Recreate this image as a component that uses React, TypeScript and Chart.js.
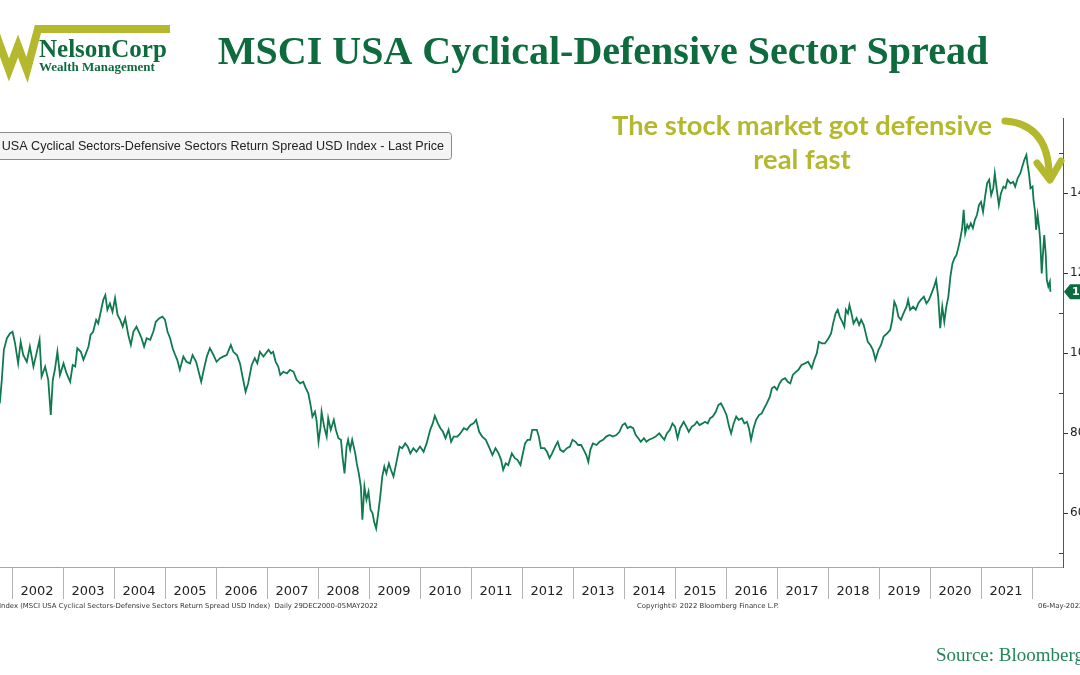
import React, { useEffect, useRef } from 'react';
import { Chart, registerables } from 'chart.js';

Chart.register(...registerables);

// ---- DATA (decimal year, index level) ----
const seg2001to2006: [number, number][] = [
  [2001.77, 87.4], [2001.81, 93.3], [2001.85, 100.8], [2001.91, 103.7], [2001.97, 104.9], [2002.02, 105.3],
  [2002.07, 102.4], [2002.13, 97.4], [2002.18, 102.8], [2002.23, 99.5], [2002.30, 97.8], [2002.36, 101.6],
  [2002.43, 96.6], [2002.49, 99.9], [2002.55, 103.3], [2002.59, 94.1], [2002.66, 96.6], [2002.72, 93.3],
  [2002.77, 84.5], [2002.81, 93.3], [2002.85, 95.8], [2002.90, 100.3], [2002.95, 94.5], [2003.02, 97.4],
  [2003.08, 94.9], [2003.15, 92.8], [2003.20, 97.0], [2003.25, 96.6], [2003.29, 101.2], [2003.36, 100.3],
  [2003.41, 98.3], [2003.46, 99.9], [2003.51, 101.6], [2003.55, 104.5], [2003.60, 105.3], [2003.66, 108.3],
  [2003.70, 107.4], [2003.75, 110.3], [2003.80, 113.3], [2003.84, 114.5], [2003.88, 110.8], [2003.93, 112.4],
  [2003.98, 110.3], [2004.03, 113.7], [2004.08, 109.5], [2004.13, 108.3], [2004.18, 106.6], [2004.23, 108.7],
  [2004.29, 104.5], [2004.34, 102.0], [2004.39, 105.3], [2004.45, 106.6], [2004.51, 104.9], [2004.55, 103.7],
  [2004.60, 101.6], [2004.65, 103.7], [2004.72, 103.3], [2004.78, 105.3], [2004.83, 107.8], [2004.90, 108.7],
  [2004.96, 109.1], [2005.01, 108.3], [2005.06, 105.3], [2005.11, 103.7], [2005.16, 101.2], [2005.21, 99.5],
  [2005.25, 98.3], [2005.30, 95.8], [2005.37, 99.1], [2005.43, 97.8], [2005.50, 97.4], [2005.55, 99.5],
  [2005.62, 97.8], [2005.67, 95.3], [2005.72, 92.8], [2005.77, 95.8], [2005.83, 99.1], [2005.89, 101.2],
  [2005.96, 99.5], [2006.02, 97.8], [2006.09, 98.7], [2006.15, 99.1], [2006.22, 99.5], [2006.30, 102.0],
  [2006.35, 100.3], [2006.42, 99.5], [2006.48, 97.4], [2006.53, 94.1], [2006.59, 90.3], [2006.64, 92.4],
  [2006.71, 97.0], [2006.77, 98.7], [2006.82, 97.4], [2006.87, 100.3], [2006.94, 99.1],
];

const seg2007to2011: [number, number][] = [
  [2007.04, 100.8], [2007.09, 99.9], [2007.13, 100.3], [2007.18, 97.8], [2007.23, 96.6], [2007.27, 94.5],
  [2007.33, 95.3], [2007.40, 94.9], [2007.46, 95.8], [2007.53, 95.3], [2007.59, 93.3], [2007.66, 92.4],
  [2007.72, 92.8], [2007.77, 91.2], [2007.82, 89.9], [2007.87, 86.6], [2007.90, 84.1], [2007.95, 85.3],
  [2007.98, 83.3], [2008.02, 77.8], [2008.06, 81.6], [2008.08, 85.3], [2008.13, 81.6], [2008.18, 79.1],
  [2008.21, 83.7], [2008.26, 80.8], [2008.32, 83.3], [2008.36, 80.8], [2008.41, 78.7], [2008.46, 78.3],
  [2008.49, 74.1], [2008.53, 69.9], [2008.57, 76.6], [2008.60, 78.3], [2008.64, 75.8], [2008.68, 78.3],
  [2008.74, 74.9], [2008.77, 72.4], [2008.81, 69.9], [2008.85, 66.6], [2008.88, 58.3], [2008.92, 66.6],
  [2008.96, 63.3], [2009.00, 65.3], [2009.04, 60.8], [2009.08, 59.9], [2009.11, 57.8], [2009.15, 56.1],
  [2009.19, 59.9], [2009.23, 64.1], [2009.27, 69.1], [2009.31, 71.6], [2009.35, 69.9], [2009.40, 72.4],
  [2009.44, 70.8], [2009.49, 69.1], [2009.53, 71.6], [2009.57, 74.1], [2009.61, 76.6], [2009.66, 76.2],
  [2009.72, 77.4], [2009.77, 76.6], [2009.82, 74.9], [2009.88, 76.2], [2009.94, 75.3], [2010.01, 76.6],
  [2010.08, 75.3], [2010.14, 77.4], [2010.21, 80.8], [2010.26, 82.4], [2010.30, 84.3], [2010.36, 82.4],
  [2010.41, 81.2], [2010.46, 80.3], [2010.51, 78.7], [2010.57, 80.8], [2010.62, 77.8], [2010.67, 79.1],
  [2010.74, 79.1], [2010.80, 79.9], [2010.87, 81.2], [2010.93, 80.8], [2011.00, 82.0], [2011.06, 82.4],
  [2011.11, 83.3], [2011.17, 80.3], [2011.23, 79.1], [2011.30, 78.3], [2011.36, 76.6], [2011.43, 74.5],
  [2011.49, 76.2], [2011.55, 74.9], [2011.60, 73.3], [2011.64, 70.8], [2011.69, 72.4], [2011.74, 72.0],
  [2011.81, 74.9], [2011.87, 73.7], [2011.92, 73.3], [2011.98, 72.0],
];

const seg2012to2016: [number, number][] = [
  [2012.02, 74.5], [2012.07, 77.4], [2012.12, 78.3], [2012.17, 78.3], [2012.21, 80.8], [2012.30, 80.8],
  [2012.34, 79.1], [2012.38, 76.2], [2012.45, 76.2], [2012.50, 75.3], [2012.55, 73.7], [2012.60, 74.9],
  [2012.66, 76.6], [2012.71, 77.8], [2012.76, 75.8], [2012.82, 75.3], [2012.89, 76.2], [2012.95, 76.6],
  [2013.00, 78.3], [2013.06, 77.8], [2013.11, 77.0], [2013.17, 77.0], [2013.22, 75.8], [2013.27, 74.5],
  [2013.31, 72.8], [2013.35, 75.8], [2013.40, 77.4], [2013.47, 77.0], [2013.53, 77.8], [2013.60, 78.3],
  [2013.66, 79.1], [2013.73, 79.5], [2013.79, 79.1], [2013.86, 79.5], [2013.92, 80.3], [2013.98, 82.0],
  [2014.03, 82.4], [2014.08, 81.2], [2014.13, 81.6], [2014.19, 81.2], [2014.24, 79.5], [2014.29, 78.7],
  [2014.34, 77.8], [2014.40, 78.7], [2014.45, 77.8], [2014.50, 78.3], [2014.57, 78.7], [2014.63, 79.1],
  [2014.70, 79.9], [2014.75, 79.1], [2014.80, 78.3], [2014.85, 79.9], [2014.91, 80.8], [2014.96, 82.4],
  [2015.01, 81.6], [2015.06, 78.7], [2015.11, 81.2], [2015.18, 82.8], [2015.23, 81.6], [2015.28, 80.3],
  [2015.34, 81.6], [2015.39, 82.0], [2015.44, 82.8], [2015.49, 82.0], [2015.55, 82.4], [2015.60, 82.8],
  [2015.65, 82.4], [2015.70, 83.7], [2015.75, 84.1], [2015.81, 85.3], [2015.86, 87.0], [2015.91, 87.4],
  [2015.96, 86.2], [2016.02, 84.5], [2016.07, 81.6], [2016.11, 79.9], [2016.16, 82.4], [2016.21, 84.1],
  [2016.26, 83.3], [2016.32, 83.7], [2016.37, 82.4], [2016.42, 82.8], [2016.46, 81.2], [2016.50, 78.3],
  [2016.55, 81.2], [2016.60, 83.3], [2016.66, 84.5], [2016.71, 84.9], [2016.76, 86.2], [2016.81, 87.4],
  [2016.87, 89.1], [2016.91, 91.2], [2016.96, 91.6],
];

const seg2017to2022: [number, number][] = [
  [2017.01, 90.8], [2017.06, 92.4], [2017.11, 93.3], [2017.17, 93.7], [2017.22, 92.8], [2017.27, 92.4],
  [2017.32, 94.5], [2017.38, 95.3], [2017.43, 95.8], [2017.49, 97.0], [2017.56, 97.4], [2017.62, 97.8],
  [2017.69, 96.2], [2017.74, 98.3], [2017.79, 99.9], [2017.83, 102.8], [2017.89, 102.4], [2017.95, 102.4],
  [2018.02, 103.7], [2018.07, 104.9], [2018.11, 107.4], [2018.16, 109.9], [2018.20, 110.8], [2018.24, 109.1],
  [2018.29, 107.8], [2018.33, 106.6], [2018.36, 110.8], [2018.40, 109.9], [2018.43, 112.0], [2018.47, 109.9],
  [2018.51, 107.4], [2018.57, 108.7], [2018.62, 107.0], [2018.66, 108.3], [2018.71, 107.0], [2018.75, 104.9],
  [2018.79, 102.8], [2018.84, 102.0], [2018.89, 100.8], [2018.94, 98.3], [2019.00, 100.8], [2019.05, 102.0],
  [2019.10, 104.1], [2019.17, 104.9], [2019.23, 105.8], [2019.27, 108.3], [2019.31, 112.8], [2019.35, 111.6],
  [2019.39, 109.1], [2019.44, 108.3], [2019.49, 109.9], [2019.55, 111.6], [2019.58, 113.3], [2019.62, 110.8],
  [2019.68, 111.6], [2019.73, 110.8], [2019.78, 112.4], [2019.83, 113.3], [2019.89, 114.1], [2019.94, 112.4],
  [2019.99, 113.3], [2020.04, 114.9], [2020.09, 116.6], [2020.13, 118.3], [2020.17, 114.1], [2020.21, 106.2],
  [2020.25, 111.6], [2020.29, 107.8], [2020.33, 111.6], [2020.37, 114.1], [2020.41, 119.1], [2020.45, 122.4],
  [2020.49, 123.7], [2020.53, 124.5], [2020.57, 126.6], [2020.60, 128.3], [2020.64, 131.2], [2020.67, 135.8],
  [2020.70, 129.9], [2020.74, 132.0], [2020.77, 131.2], [2020.81, 132.4], [2020.85, 131.2], [2020.89, 133.3],
  [2020.93, 134.5], [2020.97, 137.0], [2021.01, 137.8], [2021.05, 135.3], [2021.09, 139.1], [2021.13, 142.4],
  [2021.17, 143.3], [2021.21, 139.5], [2021.25, 141.2], [2021.28, 144.9], [2021.32, 140.8], [2021.36, 137.0],
  [2021.40, 139.9], [2021.45, 141.6], [2021.49, 141.2], [2021.53, 143.3], [2021.59, 142.4], [2021.64, 142.8],
  [2021.68, 141.6], [2021.73, 143.7], [2021.78, 144.9], [2021.82, 146.6], [2021.86, 148.3], [2021.90, 149.5],
  [2021.92, 147.4], [2021.95, 144.9], [2021.98, 141.2], [2022.02, 141.6], [2022.04, 138.3], [2022.07, 135.3],
  [2022.09, 130.8], [2022.12, 134.5], [2022.15, 131.2], [2022.17, 128.3], [2022.20, 119.9], [2022.23, 125.8],
  [2022.25, 129.5], [2022.28, 124.5], [2022.30, 118.3], [2022.33, 116.6], [2022.36, 117.8], [2022.37, 115.3],
];

const yearLabels = [2002, 2003, 2004, 2005, 2006, 2007, 2008, 2009, 2010, 2011, 2012, 2013, 2014, 2015, 2016, 2017, 2018, 2019, 2020, 2021];
const yearBoundaries = [2002, 2003, 2004, 2005, 2006, 2007, 2008, 2009, 2010, 2011, 2012, 2013, 2014, 2015, 2016, 2017, 2018, 2019, 2020, 2021, 2022];
const yTickValues = [50, 60, 70, 80, 90, 100, 110, 120, 130, 140, 150];
const yLabeledTicks = [60, 80, 100, 120, 140];

const X_MIN = 2001.7745;
const X_MAX = 2022.6176;
const Y_MIN = 46.5;
const Y_MAX = 158.75;

const TITLE = 'MSCI USA Cyclical-Defensive Sector Spread';
const LEGEND_TEXT = 'MSCI USA Cyclical Sectors-Defensive Sectors Return Spread USD Index - Last Price';
const ANNOTATION = ['The stock market got defensive', 'real fast'];
const FOOTER_LEFT = 'Index (MSCI USA Cyclical Sectors-Defensive Sectors Return Spread USD Index)  Daily 29DEC2000-05MAY2022';
const FOOTER_MID = 'Copyright\u00A9 2022 Bloomberg Finance L.P.';
const FOOTER_RIGHT = '06-May-2022';
const SOURCE = 'Source: Bloomberg';

const GREEN_LINE = '#0f7a4f';
const DARK_GREEN = '#0d6b3e';
const OLIVE = '#b3b82c';

const decorPlugin = {
  id: 'decor',
  beforeDraw(chart: any) {
    const { ctx, width, height } = chart;
    ctx.save();
    ctx.fillStyle = '#ffffff';
    ctx.fillRect(0, 0, width, height);
    ctx.restore();
  },
  afterDraw(chart: any) {
    const { ctx, chartArea } = chart;
    const xs = chart.scales.x;
    const ys = chart.scales.y;
    ctx.save();

    // Logo
    ctx.strokeStyle = OLIVE;
    ctx.lineWidth = 8;
    ctx.lineJoin = 'miter';
    ctx.beginPath();
    ctx.moveTo(-6, 29);
    ctx.lineTo(9, 70);
    ctx.lineTo(18, 46);
    ctx.lineTo(27, 70);
    ctx.lineTo(38, 29);
    ctx.lineTo(170, 29);
    ctx.stroke();
    ctx.fillStyle = DARK_GREEN;
    ctx.textAlign = 'left';
    ctx.textBaseline = 'alphabetic';
    ctx.font = 'bold 25px "Liberation Serif"';
    ctx.fillText('NelsonCorp', 39, 57);
    ctx.font = 'bold 13px "Liberation Serif"';
    ctx.fillText('Wealth Management', 39, 71);

    // Title
    ctx.font = 'bold 40px "Liberation Serif"';
    ctx.textAlign = 'center';
    ctx.fillStyle = DARK_GREEN;
    ctx.fillText(TITLE, 603, 64);

    // Legend box
    ctx.fillStyle = '#f4f4f4';
    ctx.strokeStyle = '#8a8a8a';
    ctx.lineWidth = 1;
    ctx.beginPath();
    (ctx as any).roundRect ? ctx.roundRect(-6.5, 132.5, 458, 27, 3) : ctx.rect(-6.5, 132.5, 458, 27);
    ctx.fill();
    ctx.stroke();
    ctx.fillStyle = '#222';
    ctx.font = '12.6px "Liberation Sans"';
    ctx.textAlign = 'right';
    ctx.textBaseline = 'middle';
    ctx.fillText(LEGEND_TEXT, 444, 146.5);

    // Annotation
    ctx.fillStyle = OLIVE;
    ctx.font = 'bold 27.3px Lato';
    ctx.textAlign = 'center';
    ctx.textBaseline = 'alphabetic';
    ctx.fillText(ANNOTATION[0], 802, 135);
    ctx.fillText(ANNOTATION[1], 802, 169);

    // Arrow
    ctx.strokeStyle = OLIVE;
    ctx.lineWidth = 7;
    ctx.lineCap = 'round';
    ctx.lineJoin = 'round';
    ctx.beginPath();
    ctx.moveTo(1005, 121);
    ctx.quadraticCurveTo(1046, 124, 1049, 170);
    ctx.stroke();
    ctx.beginPath();
    ctx.moveTo(1037, 163);
    ctx.lineTo(1050, 180);
    ctx.lineTo(1061, 161);
    ctx.stroke();

    // Year separators
    ctx.strokeStyle = '#b4b4b4';
    ctx.lineWidth = 1;
    ctx.lineCap = 'butt';
    yearBoundaries.forEach((yr) => {
      const px = Math.round(xs.getPixelForValue(yr)) + 0.5;
      ctx.beginPath();
      ctx.moveTo(px, chartArea.bottom);
      ctx.lineTo(px, chartArea.bottom + 32);
      ctx.stroke();
    });

    // Minor ticks (inside)
    ctx.strokeStyle = '#444';
    yTickValues.forEach((v) => {
      if (yLabeledTicks.indexOf(v) >= 0) return;
      const py = Math.round(ys.getPixelForValue(v)) + 0.5;
      ctx.beginPath();
      ctx.moveTo(chartArea.right - 4, py);
      ctx.lineTo(chartArea.right, py);
      ctx.stroke();
    });

    // Last price tag
    const last = seg2017to2022[seg2017to2022.length - 1][1];
    const ty = ys.getPixelForValue(last);
    const tx = chartArea.right + 1;
    ctx.fillStyle = '#0c6b41';
    ctx.beginPath();
    ctx.moveTo(tx, ty);
    ctx.lineTo(tx + 6, ty - 7.5);
    ctx.lineTo(tx + 60, ty - 7.5);
    ctx.lineTo(tx + 60, ty + 7.5);
    ctx.lineTo(tx + 6, ty + 7.5);
    ctx.closePath();
    ctx.fill();
    ctx.fillStyle = '#ffffff';
    ctx.font = 'bold 11px "DejaVu Sans"';
    ctx.textAlign = 'left';
    ctx.textBaseline = 'middle';
    ctx.fillText(last.toFixed(2), tx + 8, ty + 0.5);

    // Footer
    ctx.fillStyle = '#333';
    ctx.font = '6.9px "DejaVu Sans"';
    ctx.textBaseline = 'middle';
    ctx.textAlign = 'right';
    ctx.fillText(FOOTER_LEFT, 378, 606);
    ctx.textAlign = 'center';
    ctx.fillText(FOOTER_MID, 708, 606);
    ctx.textAlign = 'left';
    ctx.fillText(FOOTER_RIGHT, 1038, 606);

    // Source
    ctx.fillStyle = '#23855a';
    ctx.font = '19px "Liberation Serif"';
    ctx.textAlign = 'left';
    ctx.textBaseline = 'alphabetic';
    ctx.fillText(SOURCE, 936, 661);

    ctx.restore();
  },
};

export default function App() {
  const canvasRef = useRef<HTMLCanvasElement | null>(null);

  useEffect(() => {
    if (!canvasRef.current) return;
    const points = [...seg2001to2006, ...seg2007to2011, ...seg2012to2016, ...seg2017to2022].map(([x, y]) => ({ x, y }));
    const chart = new Chart(canvasRef.current, {
      type: 'line',
      data: {
        datasets: [
          {
            data: points,
            borderColor: GREEN_LINE,
            borderWidth: 1.8,
            pointRadius: 0,
            tension: 0,
            fill: false,
          },
        ],
      },
      options: {
        animation: false,
        responsive: false,
        maintainAspectRatio: false,
        layout: { padding: { top: 118, left: 0, right: 0, bottom: 0 } },
        plugins: {
          legend: { display: false },
          tooltip: { enabled: false },
          title: { display: false },
        },
        scales: {
          x: {
            type: 'linear',
            position: 'bottom',
            min: X_MIN,
            max: X_MAX,
            grid: { display: false, drawTicks: false },
            border: { display: true, color: '#a8a8a8', width: 1 },
            afterBuildTicks: (scale: any) => {
              scale.ticks = yearLabels.map((y) => ({ value: y + 0.5 }));
            },
            afterFit: (scale: any) => {
              scale.height = 108;
            },
            ticks: {
              autoSkip: false,
              maxRotation: 0,
              minRotation: 0,
              padding: 17,
              color: '#222',
              font: { family: '"DejaVu Sans"', size: 13 },
              callback: (v: any) => String(Math.floor(Number(v))),
            },
          },
          y: {
            type: 'linear',
            position: 'right',
            min: Y_MIN,
            max: Y_MAX,
            grid: {
              display: true,
              drawOnChartArea: false,
              drawTicks: true,
              tickLength: 5,
              color: (c: any) => (c.tick && yLabeledTicks.indexOf(c.tick.value) >= 0 ? '#333' : 'rgba(0,0,0,0)'),
            },
            border: { display: true, color: '#555', width: 1 },
            afterBuildTicks: (scale: any) => {
              scale.ticks = yTickValues.map((v) => ({ value: v }));
            },
            afterFit: (scale: any) => {
              scale.width = 17;
            },
            ticks: {
              autoSkip: false,
              padding: 2,
              color: '#222',
              font: { family: '"DejaVu Sans"', size: 12 },
              callback: (v: any) => (yLabeledTicks.indexOf(Number(v)) >= 0 ? String(v) : ''),
            },
          },
        },
      },
      plugins: [decorPlugin],
    } as any);
    return () => chart.destroy();
  }, []);

  return (
    <div style={{ position: 'absolute', left: 0, top: 0, width: 1080, height: 675, overflow: 'hidden', background: '#fff' }}>
      <canvas ref={canvasRef} width={1080} height={675} style={{ display: 'block', width: 1080, height: 675 }} />
    </div>
  );
}
